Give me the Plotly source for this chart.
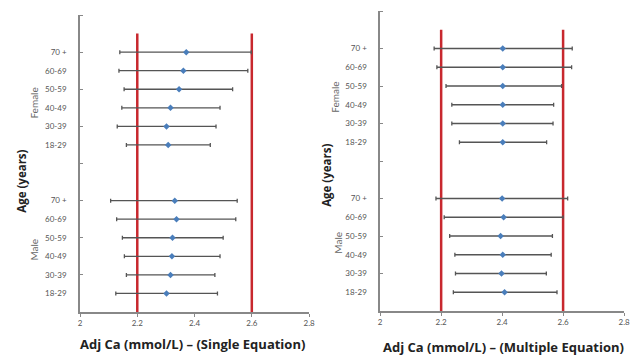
import plotly.graph_objects as go

# ---- data ----
age_groups = ["18-29", "30-39", "40-49", "50-59", "60-69", "70 +"]
male_pos = [1, 2, 3, 4, 5, 6]
female_pos = [9, 10, 11, 12, 13, 14]

# Single equation (left)
single_male_mean = [2.302, 2.316, 2.321, 2.323, 2.337, 2.331]
single_male_low = [2.125, 2.162, 2.155, 2.148, 2.128, 2.107]
single_male_high = [2.480, 2.471, 2.489, 2.500, 2.544, 2.549]
single_female_mean = [2.308, 2.302, 2.316, 2.346, 2.361, 2.371]
single_female_low = [2.162, 2.130, 2.146, 2.154, 2.136, 2.139]
single_female_high = [2.455, 2.475, 2.489, 2.533, 2.586, 2.598]

# Multiple equation (right)
multi_male_mean = [2.408, 2.398, 2.402, 2.395, 2.405, 2.400]
multi_male_low = [2.240, 2.247, 2.245, 2.228, 2.210, 2.183]
multi_male_high = [2.580, 2.545, 2.561, 2.565, 2.600, 2.615]
multi_female_mean = [2.402, 2.402, 2.402, 2.402, 2.402, 2.402]
multi_female_low = [2.260, 2.235, 2.235, 2.216, 2.186, 2.177]
multi_female_high = [2.546, 2.567, 2.569, 2.595, 2.628, 2.630]

ref_limits = [2.2, 2.6]
ref_top = 15
x_ticks = [2, 2.2, 2.4, 2.6, 2.8]
y_frame_ticks = [0, 2, 4, 6, 8, 10, 12, 14, 16]

FONT = "Open Sans"
ERR_COLOR = "#555555"
MARK_COLOR = "#4A7EBB"
RED = "#C8282E"

fig = go.Figure()


def add_panel(xa, ya, groups):
    for r in ref_limits:
        fig.add_trace(go.Scatter(
            x=[r, r], y=[0, ref_top], mode="lines", xaxis=xa, yaxis=ya,
            line=dict(color=RED, width=2.5), showlegend=False, hoverinfo="skip"))
    for mean, low, high, pos in groups:
        fig.add_trace(go.Scatter(
            x=mean, y=pos, mode="markers", xaxis=xa, yaxis=ya,
            marker=dict(symbol="diamond", size=5, color=MARK_COLOR),
            error_x=dict(type="data", symmetric=False,
                         array=[h - m for h, m in zip(high, mean)],
                         arrayminus=[m - l for m, l in zip(mean, low)],
                         color=ERR_COLOR, thickness=1.3, width=2),
            showlegend=False, hoverinfo="skip"))


add_panel("x", "y", [(single_male_mean, single_male_low, single_male_high, male_pos),
                     (single_female_mean, single_female_low, single_female_high, female_pos)])
add_panel("x2", "y2", [(multi_male_mean, multi_male_low, multi_male_high, male_pos),
                       (multi_female_mean, multi_female_low, multi_female_high, female_pos)])

W, H = 635, 356

xcommon = dict(range=[2, 2.8], tickvals=x_ticks, ticktext=[str(v) for v in x_ticks],
               showline=True, linecolor="#888888", linewidth=1.5,
               ticks="outside", ticklen=3, tickcolor="#888888",
               showgrid=False, zeroline=False,
               tickfont=dict(family="Lato", size=8, color="#555555"))
ycommon = dict(range=[0, 16], tickvals=male_pos + female_pos, ticktext=age_groups + age_groups,
               ticks="", showline=True, linecolor="#888888", linewidth=1.5,
               showgrid=False, zeroline=False, ticklabelstandoff=10,
               minor=dict(tickmode="array", tickvals=y_frame_ticks, ticks="inside",
                          ticklen=3, tickcolor="#888888", showgrid=False),
               tickfont=dict(family="Lato", size=8, color="#555555"))

fig.update_layout(
    width=W, height=H, margin=dict(l=0, r=0, t=0, b=0),
    paper_bgcolor="white", plot_bgcolor="white",
    xaxis=dict(domain=[79 / W, 311 / W], anchor="y", **xcommon),
    yaxis=dict(domain=[1 - 312 / H, 1 - 15 / H], anchor="x", **ycommon),
    xaxis2=dict(domain=[383 / W, 630 / W], anchor="y2", **xcommon),
    yaxis2=dict(domain=[1 - 311 / H, 1 - 11 / H], anchor="x2", **ycommon),
)

ann = []
title_font = dict(family=FONT, size=13, color="#222222", weight="bold")
# x-axis titles
ann.append(dict(text="Adj Ca (mmol/L) – (Single Equation)", x=193 / W, y=1 - 344 / H,
                xref="paper", yref="paper", showarrow=False, xanchor="center", yanchor="middle",
                font=title_font))
ann.append(dict(text="Adj Ca (mmol/L) – (Multiple Equation)", x=508 / W, y=1 - 347 / H,
                xref="paper", yref="paper", showarrow=False, xanchor="center", yanchor="middle",
                font=title_font))
# Age titles
for xp, yp in [(19, 181), (328, 175)]:
    ann.append(dict(text="Age (years)", x=xp / W, y=1 - yp / H, xref="paper", yref="paper",
                    textangle=-90, showarrow=False, xanchor="center", yanchor="middle",
                    font=dict(family=FONT, size=11.5, color="#222222", weight="bold")))
# Gender labels
for xp, yp, t in [(32, 103, "Female"), (32, 250, "Male"), (337, 97, "Female"), (340, 243, "Male")]:
    ann.append(dict(text=t, x=xp / W, y=1 - yp / H, xref="paper", yref="paper",
                    textangle=-90, showarrow=False, xanchor="center", yanchor="middle",
                    font=dict(family="Lato", size=10, color="#666666")))
fig.update_layout(annotations=ann)

fig.write_html("out.html")
